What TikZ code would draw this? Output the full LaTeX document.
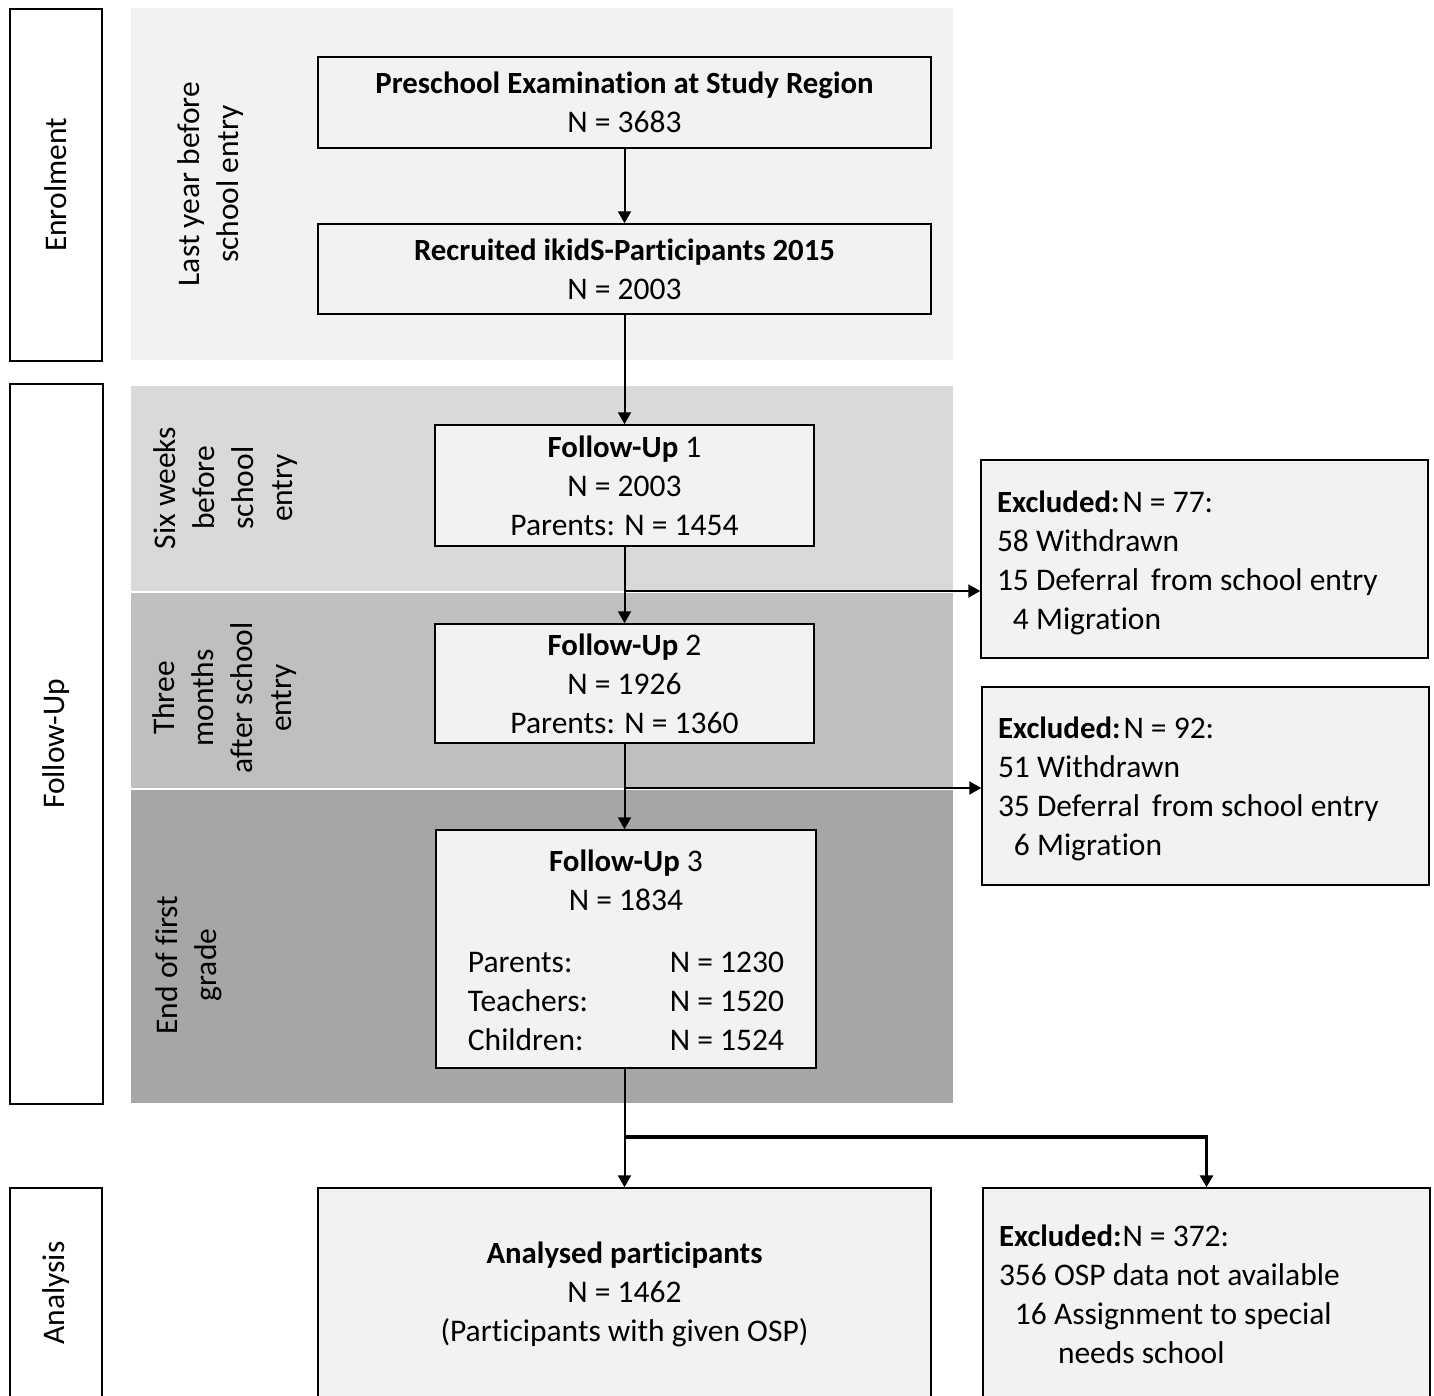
\documentclass[tikz,border=0pt]{standalone}
\usepackage{fontspec}
\setmainfont[Ligatures=NoCommon]{Carlito}
\usetikzlibrary{arrows.meta}
\definecolor{bandA}{HTML}{F2F2F2}
\definecolor{bandB}{HTML}{D9D9D9}
\definecolor{bandC}{HTML}{BFBFBF}
\definecolor{bandD}{HTML}{A6A6A6}
\definecolor{boxfill}{HTML}{F2F2F2}
\newcommand\hb[1]{{\fontsize{30.8}{39}\selectfont\bfseries #1}}
\begin{document}
\begin{tikzpicture}[x=1pt,y=-1pt,
  font=\fontsize{31.5}{39}\selectfont,
  phase/.style={draw, line width=1.5pt, fill=white, inner sep=0pt},
  band/.style={draw=none, inner sep=0pt},
  fbox/.style={draw, line width=1.5pt, fill=boxfill, inner sep=0pt, align=center},
  exbox/.style={draw, line width=1.5pt, fill=boxfill, inner xsep=16pt, inner ysep=0pt, align=left,
    minimum width=447pt, text width=415pt,
    execute at begin node={\spaceskip=0pt\relax\xspaceskip=0pt\relax}},
  bandlabel/.style={rotate=90, align=center, inner sep=0pt},
  conn/.style={line width=2pt},
  arr/.style={line width=2pt, -{Triangle[length=12pt,width=13pt]}}
]
\useasboundingbox (0,0) rectangle (1434,1395);
\fill[white] (0,0) rectangle (1434,1395);

% bands
\node[band, fill=bandA, minimum width=822pt, minimum height=352pt] (b1) at (542,184) {};
\node[band, fill=bandB, minimum width=822pt, minimum height=205pt] (b2) at (542,488.5) {};
\node[band, fill=bandC, minimum width=822pt, minimum height=195pt] (b3) at (542,690.5) {};
\node[band, fill=bandD, minimum width=822pt, minimum height=313pt] (b4) at (542,946.5) {};

% phase boxes
\node[phase, minimum width=92pt, minimum height=352pt] (enr) at (56,185) {};
\node[rotate=90, inner sep=0pt] (enrl) at (enr) {Enrolment};
\node[phase, minimum width=93pt, minimum height=720pt] (fu) at (56.5,744) {};
\node[rotate=90, inner sep=0pt] (ful) at (fu) {Follow-Up};
\node[phase, minimum width=92pt, minimum height=210pt] (ana) at (56,1293) {};
\node[rotate=90, inner sep=0pt] (anal) at (ana) {Analysis};

% band labels
\node[bandlabel] (l1) at (211,184) {Last year before\\school entry};
\node[bandlabel] (l2) at (226,488) {Six weeks\\before\\school\\entry};
\node[bandlabel] (l3) at (225,698) {Three\\months\\after school\\entry};
\node[bandlabel] (l4) at (189,965) {End of first\\grade};

% main boxes
\node[fbox, minimum width=613pt, minimum height=91pt] (pre) at (624.5,102.5)
  {\hb{Preschool Examination at Study Region}\\N = 3683};
\node[fbox, minimum width=613pt, minimum height=90pt] (rec) at (624.5,269)
  {\hb{Recruited ikidS-Participants 2015}\\N = 2003};
\node[fbox, minimum width=379pt, minimum height=121pt] (fu1) at (624.5,485.5)
  {\hb{Follow-Up} 1\\N = 2003\\Parents: N = 1454};
\node[fbox, minimum width=379pt, minimum height=119pt] (fu2) at (624.5,683.5)
  {\hb{Follow-Up} 2\\N = 1926\\Parents: N = 1360};
\node[fbox, minimum width=380pt, minimum height=238pt] (fu3) at (626,949)
  {\rule{0pt}{36pt}\hb{Follow-Up} 3\\N = 1834\\[34pt]
   \begin{tabular}{@{}p{202pt}@{}l@{}}
   Parents: & N = 1230\\
   Teachers: & N = 1520\\
   Children: & N = 1524
   \end{tabular}};
\node[fbox, minimum width=613pt, minimum height=212pt] (an) at (624.5,1294)
  {\hb{Analysed participants}\\N = 1462\\(Participants with given OSP)};

% excluded boxes
\node[exbox, minimum height=198pt] (ex1) at (1204.5,559)
  {\rule{0pt}{29pt}\hb{Excluded:}\hspace{3pt}N = 77:\\58 Withdrawn\\15 Deferral\hspace{5pt} from school entry\\\phantom{1}4 Migration};
\node[exbox, minimum height=198pt] (ex2) at (1205.5,786)
  {\rule{0pt}{27pt}\hb{Excluded:}\hspace{3pt}N = 92:\\51 Withdrawn\\35 Deferral\hspace{5pt} from school entry\\\phantom{1}6 Migration};
\node[exbox, minimum height=212pt] (ex3) at (1206.5,1294)
  {\hb{Excluded:}\hspace{1pt}N = 372:\\356 OSP data not available\\\phantom{1}16 Assignment to special\\\hspace{59pt}needs school};

% junctions
\coordinate (j1) at (624.5,591);
\coordinate (j2) at (624.5,788);
\coordinate (j3) at (624.5,1137);
\coordinate (j4) at (1206.5,1137);

% connectors
\draw[arr] (pre.south) -- (rec.north);
\draw[arr] (rec.south) -- (fu1.north);
\draw[arr] (fu1.south) -- (fu2.north);
\draw[arr] (j1) -- (j1 -| ex1.west);
\draw[arr] (fu2.south) -- (j2 |- fu3.north);
\draw[arr] (j2) -- (j2 -| ex2.west);
\draw[conn] (j3 |- fu3.south) -- (j3);
\draw[arr] (j3) -- (an.north);
\draw[line width=4pt] (j3) -- (j4);
\draw[line width=3pt, -{Triangle[length=12pt,width=13pt]}] ([yshift=2pt]j4) -- (ex3.north);
\end{tikzpicture}
\end{document}
